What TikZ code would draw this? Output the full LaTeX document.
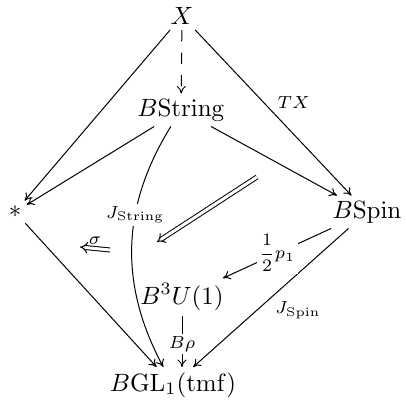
\documentclass[tikz,border=0pt]{standalone}
\usetikzlibrary{arrows.meta}
\begin{document}
\begin{tikzpicture}[x=0.4pt,y=-0.4pt,
  obj/.style={inner sep=2pt},
  ar/.style={-{Computer Modern Rightarrow[length=3pt, width=3.6pt]}, line width=0.4pt},
  lbl/.style={font=\scriptsize, inner sep=1.5pt},
  desc/.style={font=\scriptsize, fill=white, inner sep=1pt},
  dbl/.style={double, double distance=1.2pt, -{Implies[scale=1.2]}, line width=0.4pt}]
\useasboundingbox (0,0) rectangle (406,404);
\node[obj] (X) at (182,16) {$X$};
\node[obj] (BS) at (181,110) {$B\mathrm{String}$};
\node[obj] (pt) at (15,212) {$*$};
\node[obj] (BSp) at (367,212) {$B\mathrm{Spin}$};
\node[obj] (B3) at (182,297) {$B^3U(1)$};
\node[obj] (BGL) at (173,385) {$B\mathrm{GL}_1(\mathrm{tmf})$};
\coordinate (d1) at (257,177);
\coordinate (d2) at (157,242);
\coordinate (s1) at (110,250);
\coordinate (s2) at (80,247);
\draw[ar, dash pattern=on 4.5pt off 4.5pt] (X) -- (BS);
\draw[ar] (X) -- (pt);
\draw[ar] (BS) -- (pt);
\draw[ar] (X) -- node[lbl, anchor=south west] {$TX$} (BSp);
\draw[ar] (BS) -- (BSp);
\draw[ar] (pt) -- (BGL);
\draw[ar] (BS) to[bend right=30] node[desc, pos=0.37] {$J_{\mathrm{String}}$} (BGL);
\draw[ar] (BSp) -- node[lbl, anchor=north west] {$J_{\mathrm{Spin}}$} (BGL);
\draw[ar] (BSp) -- node[desc] {${\displaystyle\frac{1}{2}}p_1$} (B3);
\draw[ar] (B3) -- node[desc, pos=0.55] {$B\rho$} (B3 |- BGL.north);
\draw[dbl] (d1) -- (d2);
\draw[dbl] (s1) -- node[lbl, above] {$\sigma$} (s2);
\end{tikzpicture}
\end{document}
